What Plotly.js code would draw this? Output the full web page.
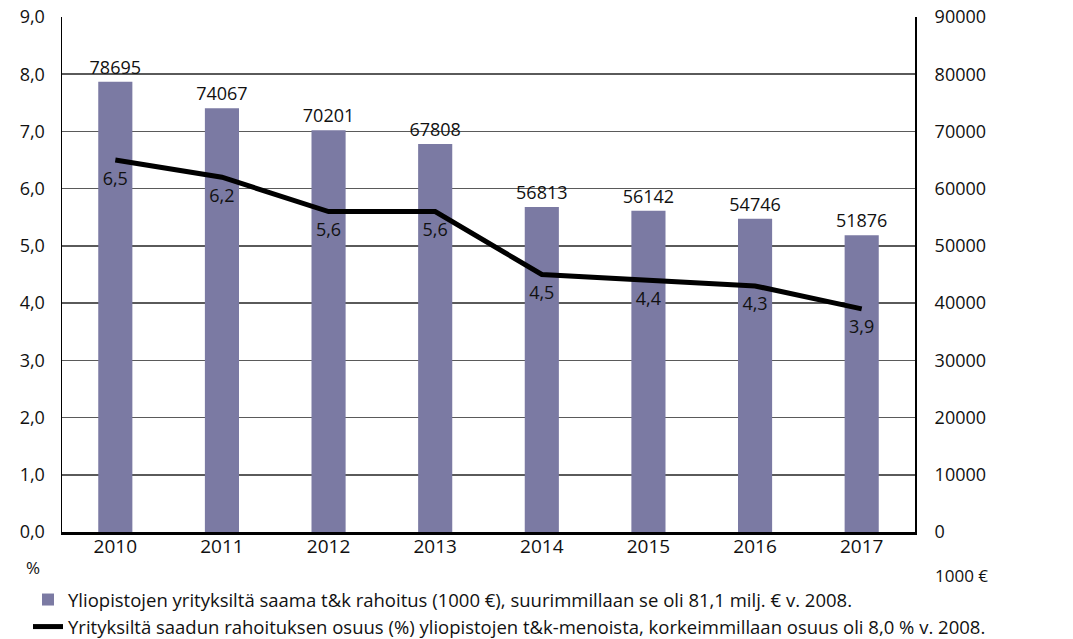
<!DOCTYPE html>
<html><head><meta charset="utf-8">
<script src="https://cdn.plot.ly/plotly-3.0.1.min.js"></script>
<style>body{margin:0;background:#fff}#c{width:1073px;height:639px}</style>
</head><body><div id="c"></div>
<script>
const years = ['2010','2011','2012','2013','2014','2015','2016','2017'];
const funding = [78695, 74067, 70201, 67808, 56813, 56142, 54746, 51876];
const share = [6.5, 6.2, 5.6, 5.6, 4.5, 4.4, 4.3, 3.9];
const shareLabels = ['6,5','6,2','5,6','5,6','4,5','4,4','4,3','3,9'];
const barName = 'Yliopistojen yrityksiltä saama t&k rahoitus (1000 €), suurimmillaan se oli 81,1 milj. € v. 2008.';
const lineName = 'Yrityksiltä saadun rahoituksen osuus (%) yliopistojen t&k-menoista, korkeimmillaan osuus oli 8,0 % v. 2008.';

const F = "'Open Sans','Noto Sans',sans-serif";

const traces = [
  {type:'bar', x:years, y:funding, yaxis:'y', name:barName,
   marker:{color:'#7b7aa3'}, width:0.32,
   text:funding.map(String), textposition:'outside', cliponaxis:false, constraintext:'none',
   textfont:{family:F, size:18, color:'#111'}},
  {type:'scatter', mode:'lines+markers+text', x:years, y:share, yaxis:'y2', name:lineName,
   line:{color:'#000', width:5}, marker:{size:16, color:'rgba(0,0,0,0)'},
   text:shareLabels, textposition:'bottom center',
   textfont:{family:F, size:18, color:'#111'}, cliponaxis:false}
];

const layout = {
  width:1073, height:639,
  margin:{l:62, r:158, t:17, b:107},
  paper_bgcolor:'#fff', plot_bgcolor:'#fff',
  separators:', ',
  showlegend:true,
  legend:{orientation:'v', xref:'paper', yref:'container', x:(28-62)/853, xanchor:'left',
    y:1-581/639, yanchor:'top',
    font:{family:F, size:18.5, color:'#111'}, traceorder:'normal', itemwidth:30,
    tracegroupgap:0, bgcolor:'rgba(0,0,0,0)'},
  xaxis:{type:'category', range:[-0.5,7.5], showline:true, linecolor:'#000', linewidth:2.5,
    ticks:'', tickfont:{family:F, size:19, color:'#111'}, showgrid:false, zeroline:false,
    ticklabelstandoff:-4},
  yaxis:{range:[0,90000], dtick:10000, tickformat:'d', side:'right',
    showgrid:true, gridcolor:'#5a5a5a', gridwidth:1.6,
    showline:true, linecolor:'#000', linewidth:2, zeroline:false, ticks:'',
    tickfont:{family:F, size:18, color:'#111'}, ticklabelstandoff:14},
  yaxis2:{range:[0,9], dtick:1, tickformat:'.1f', overlaying:'y', side:'left',
    showgrid:false, showline:true, linecolor:'#000', linewidth:1.5, zeroline:false, ticks:'',
    tickfont:{family:F, size:18, color:'#111'}, ticklabelstandoff:12},
  annotations:[
    {xref:'paper', yref:'paper', x:(33-62)/853, y:-(567-532)/515, yanchor:'middle', xanchor:'center',
     text:'%', showarrow:false, font:{family:F, size:17, color:'#111'}},
    {xref:'paper', yref:'paper', x:(962-62)/853, y:-(575-532)/515, yanchor:'middle', xanchor:'center',
     text:'1000 €', showarrow:false, font:{family:F, size:17, color:'#111'}}
  ]
};
Plotly.newPlot('c', traces, layout, {displayModeBar:false, staticPlot:true});
</script></body></html>
